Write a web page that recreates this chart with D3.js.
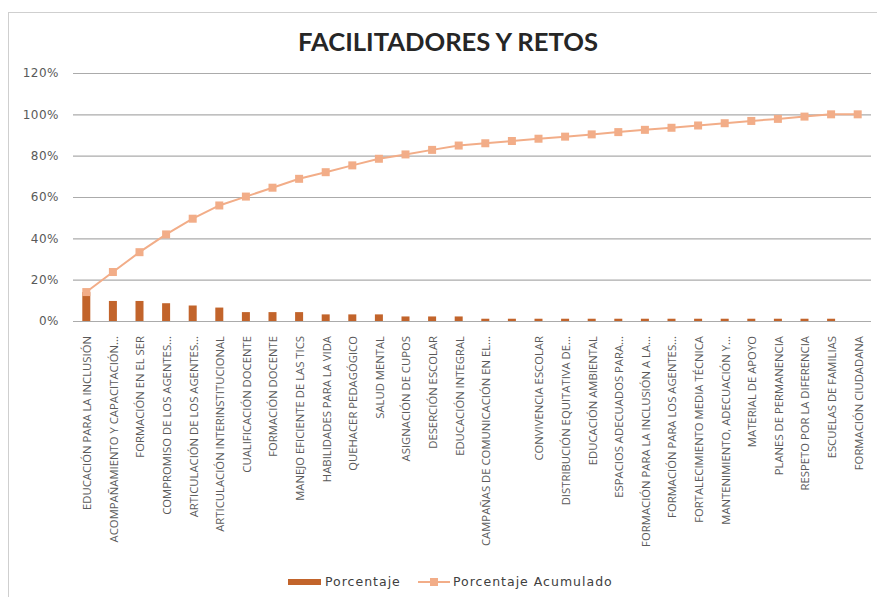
<!DOCTYPE html>
<html>
<head>
<meta charset="utf-8">
<script src="https://cdn.jsdelivr.net/npm/d3@7"></script>
<style>
  html, body { margin:0; padding:0; background:#fff; }
  svg { display:block; }
  .ylab text { font-family:"DejaVu Sans", sans-serif; font-size:12px; letter-spacing:0.5px; fill:#595959; }
  .xlab text { font-family:"Open Sans", sans-serif; font-size:11.3px; fill:#595959; }
  .title { font-family:Lato, "Open Sans", sans-serif; font-size:24px; font-weight:700; fill:#262626; }
  .legend text { font-family:"DejaVu Sans", sans-serif; font-size:12.5px; letter-spacing:1px; fill:#404040; }
</style>
</head>
<body>
<div id="chart"></div>
<script>
/* Pareto: facilitadores y retos. */
const CATEGORIES = [
  "EDUCACIÓN PARA LA INCLUSIÓN", "ACOMPAÑAMIENTO Y CAPACITACIÓN...", "FORMACIÓN EN EL SER",
  "COMPROMISO DE LOS AGENTES...", "ARTICULACIÓN DE LOS AGENTES...", "ARTICULACIÓN INTERINSTITUCIONAL",
  "CUALIFICACIÓN DOCENTE", "FORMACIÓN DOCENTE", "MANEJO EFICIENTE DE LAS TICS",
  "HABILIDADES PARA LA VIDA", "QUEHACER PEDAGÓGICO", "SALUD MENTAL",
  "ASIGNACIÓN DE CUPOS", "DESERCIÓN ESCOLAR", "EDUCACIÓN INTEGRAL",
  "CAMPAÑAS DE COMUNICACIÓN EN EL...", "", "CONVIVENCIA ESCOLAR",
  "DISTRIBUCIÓN EQUITATIVA DE...", "EDUCACIÓN AMBIENTAL", "ESPACIOS ADECUADOS PARA...",
  "FORMACIÓN PARA LA INCLUSIÓN A LA...", "FORMACIÓN PARA LOS AGENTES...", "FORTALECIMIENTO MEDIA TÉCNICA",
  "MANTENIMIENTO, ADECUACIÓN Y...", "MATERIAL DE APOYO", "PLANES DE PERMANENCIA",
  "RESPETO POR LA DIFERENCIA", "ESCUELAS DE FAMILIAS", "FORMACIÓN CIUDADANA"
];
const PORCENTAJE = [14.0, 9.7, 9.7, 8.6, 7.5, 6.5, 4.3, 4.3, 4.3, 3.2, 3.2, 3.2, 2.2, 2.2, 2.2,
  1.1, 1.1, 1.1, 1.1, 1.1, 1.1, 1.1, 1.1, 1.1, 1.1, 1.1, 1.1, 1.1, 1.1, 0];
const ACUMULADO = [14.0, 23.7, 33.3, 41.9, 49.5, 55.9, 60.2, 64.5, 68.8, 72.0, 75.3, 78.5, 80.6, 82.8, 84.9,
  86.0, 87.1, 88.2, 89.2, 90.3, 91.4, 92.5, 93.5, 94.6, 95.7, 96.8, 97.8, 98.9, 100, 100];
const Y_TICKS = [0, 20, 40, 60, 80, 100, 120];
const TITLE = "FACILITADORES Y RETOS";
const SERIES = ["Porcentaje", "Porcentaje Acumulado"];

const W = 877, H = 597;
const M = { top:73, right:6, bottom:276, left:73 };
const IW = W - M.left - M.right, IH = H - M.top - M.bottom;
const BAR = "#c2642b", LINE = "#f2ad88";

const svg = d3.select("#chart").append("svg").attr("width", W).attr("height", H);

// outer chart frame
svg.append("rect").attr("x", 8.5).attr("y", 12.5).attr("width", W).attr("height", H)
  .attr("fill", "none").attr("stroke", "#cfcfcf");

svg.append("text").attr("class", "title").attr("x", 448).attr("y", 51)
  .attr("text-anchor", "middle").attr("textLength", 300).attr("lengthAdjust", "spacingAndGlyphs")
  .text(TITLE);

const x = d3.scaleBand().domain(d3.range(CATEGORIES.length)).range([0, IW]);
const y = d3.scaleLinear().domain([0, 120]).range([IH, 0]);

const g = svg.append("g").attr("transform", `translate(${M.left},${M.top})`);

// gridlines + y labels
const gy = g.append("g").attr("class", "ylab")
  .call(d3.axisLeft(y).tickValues(Y_TICKS).tickSize(-IW).tickPadding(14).tickFormat(d => d + "%"));
gy.select(".domain").remove();
gy.selectAll("line").attr("stroke", "#ababab").attr("stroke-width", 1.2);

// bars
g.selectAll("rect.bar").data(PORCENTAJE).enter().append("rect").attr("class", "bar")
  .attr("x", (d, i) => x(i) + x.bandwidth() / 2 - 4).attr("width", 8)
  .attr("y", d => y(d)).attr("height", d => IH - y(d))
  .attr("fill", BAR);

// cumulative line
g.append("path").datum(ACUMULADO)
  .attr("fill", "none").attr("stroke", LINE).attr("stroke-width", 2)
  .attr("d", d3.line().x((d, i) => x(i) + x.bandwidth() / 2).y(d => y(d)));
g.selectAll("rect.pt").data(ACUMULADO).enter().append("rect").attr("class", "pt")
  .attr("x", (d, i) => x(i) + x.bandwidth() / 2 - 4).attr("y", d => y(d) - 4)
  .attr("width", 8).attr("height", 8).attr("fill", LINE);

// rotated category labels
g.append("g").attr("class", "xlab").selectAll("text").data(CATEGORIES).enter().append("text")
  .attr("transform", (d, i) => `translate(${x(i) + x.bandwidth() / 2 + 1},${IH + 15}) rotate(-90)`)
  .attr("text-anchor", "end").attr("dy", "0.35em").text(d => d);

// legend
const lg = svg.append("g").attr("class", "legend");
lg.append("rect").attr("x", 288).attr("y", 579).attr("width", 33).attr("height", 6).attr("fill", BAR);
lg.append("text").attr("x", 325).attr("y", 586).text(SERIES[0]);
lg.append("line").attr("x1", 418).attr("x2", 450).attr("y1", 582).attr("y2", 582)
  .attr("stroke", LINE).attr("stroke-width", 2);
lg.append("rect").attr("x", 430).attr("y", 578).attr("width", 8).attr("height", 8).attr("fill", LINE);
lg.append("text").attr("x", 453).attr("y", 586).text(SERIES[1]);
</script>
</body>
</html>
